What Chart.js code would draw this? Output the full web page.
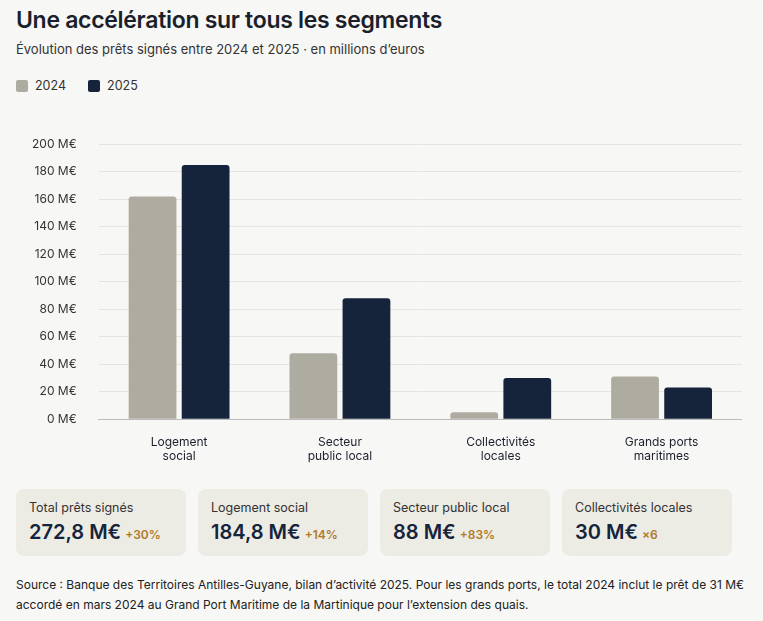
<!DOCTYPE html>
<html><head><meta charset="utf-8">
<script src="https://cdn.jsdelivr.net/npm/chart.js@4"></script>
<style>
body{margin:0;background:#f7f7f5;font-family:Inter,"Noto Sans",sans-serif;color:#1a1f2b;width:763px;height:621px;overflow:hidden;position:relative}
h1{position:absolute;left:16px;top:6px;margin:0;font-size:23px;font-weight:600;letter-spacing:-0.3px}
.sub{position:absolute;left:16px;top:41px;font-size:13px;color:#333}
.leg{position:absolute;left:16px;top:78px;font-size:12.5px;color:#333;display:flex;gap:22px}
.leg span{display:inline-flex;align-items:center;gap:7px}
.leg i{display:inline-block;width:12px;height:12px;border-radius:2px}
#wrap{position:absolute;left:10px;top:115px;width:732px;height:357px}
.cards{position:absolute;left:16px;top:489px;display:flex;gap:12px}
.card{width:170px;height:67px;background:#ecebe4;border-radius:8px;box-sizing:border-box;padding:11px 13px}
.card .l{font-size:12.5px;color:#333}
.card .v{font-size:20px;font-weight:600;margin-top:5px;color:#15243b}
.card .v b{font-size:12px;color:#b07a2a;font-weight:600;margin-left:4px}
.src{position:absolute;left:16px;top:575px;font-size:12px;line-height:20px;color:#222;width:740px}
</style></head><body>
<h1>Une accélération sur tous les segments</h1>
<div class="sub">Évolution des prêts signés entre 2024 et 2025 · en millions d’euros</div>
<div class="leg"><span><i style="background:#aeaba1"></i>2024</span><span><i style="background:#15243b"></i>2025</span></div>
<div id="wrap"><canvas id="c"></canvas></div>
<div class="cards">
<div class="card"><div class="l">Total prêts signés</div><div class="v">272,8 M€<b>+30%</b></div></div>
<div class="card"><div class="l">Logement social</div><div class="v">184,8 M€<b>+14%</b></div></div>
<div class="card"><div class="l">Secteur public local</div><div class="v">88 M€<b>+83%</b></div></div>
<div class="card"><div class="l">Collectivités locales</div><div class="v">30 M€<b>×6</b></div></div>
</div>
<div class="src">Source : Banque des Territoires Antilles-Guyane, bilan d’activité 2025. Pour les grands ports, le total 2024 inclut le prêt de 31 M€ accordé en mars 2024 au Grand Port Maritime de la Martinique pour l’extension des quais.</div>
<script>
const categories=[["Logement","social"],["Secteur","public local"],["Collectivités","locales"],["Grands ports","maritimes"]];
const values2024=[162,48,5,31];
const values2025=[184.8,88,30,23];
new Chart(document.getElementById('c'),{type:'bar',
data:{labels:categories,datasets:[
{label:'2024',data:values2024,backgroundColor:'#aeaba1',borderRadius:{topLeft:3,topRight:3},borderSkipped:false,categoryPercentage:0.66,barPercentage:0.9},
{label:'2025',data:values2025,backgroundColor:'#15243b',borderRadius:{topLeft:3,topRight:3},borderSkipped:false,categoryPercentage:0.66,barPercentage:0.9}]},
options:{responsive:true,maintainAspectRatio:false,animation:false,
plugins:{legend:{display:false},tooltip:{enabled:false}},
scales:{y:{min:0,max:200,ticks:{stepSize:20,color:'#333',font:{family:'Inter',size:12},callback:v=>v+' M€',padding:22},grid:{color:'#e6e5e0',drawTicks:false},border:{display:false}},
x:{ticks:{color:'#1a1f2b',font:{family:'Inter',size:12},padding:8},grid:{display:false},border:{color:'#bbb'}}}}});
</script></body></html>
